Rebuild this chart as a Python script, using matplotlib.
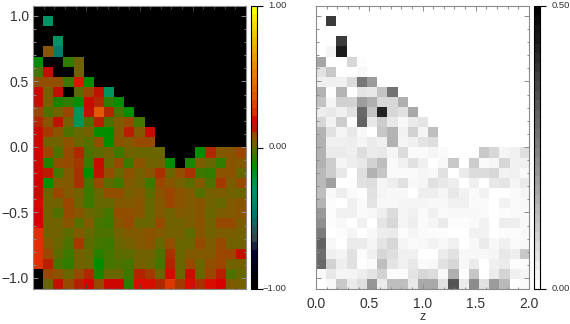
import matplotlib
matplotlib.use('Agg')
import matplotlib.pyplot as plt
import numpy as np
from matplotlib.cm import ScalarMappable
from matplotlib.colors import LinearSegmentedColormap, Normalize
from matplotlib.ticker import MultipleLocator
from matplotlib.transforms import ScaledTranslation

plt.rcParams['font.family'] = ['Liberation Sans', 'DejaVu Sans']

# left panel, top row first; short rows are black (-1) to the right
signed_rows = [
    [],
    [-1, -.30],
    [],
    [-1, -1, -.30],
    [-1, .06, -.45],
    [-.14, -1, -1, -.07, .02],
    [-.04, .15, -1, -1, .02],
    [.08, .08, .08, -.05, .22, -.14],
    [.15, .03, .16, -1, -.01, .10, .145, -.28],
    [.145, .03, -.10, -.07, -.15, .16, .125, -.07, -.14],
    [.10, -.03, .02, .10, -.28, .145, .38, .125, -.04, -.14],
    [.125, .07, .145, .03, -.28, -.03, .135, -.03, .05, .09, -.04],
    [.16, .11, .06, -.03, 0, .03, -.13, -.14, .05, .135, .05, .16],
    [.16, .02, .02, .07, .01, -.02, .08, -.14, .06, .05, .09, .09],
    [.17, .10, -.03, .09, .125, -.03, -.01, .02, -.05, .02, .01, .01, .01, -1, -1, -1, -.14, .125, .05, .06, .10],
    [.16, -.10, .08, .09, .11, -.05, .16, .01, .09, -.05, .07, .02, .02, -.14, -1, -.10, .04, 0, -.07, .06, .05],
    [.17, .14, -.04, .05, .12, -.14, .145, .08, .01, .07, .03, .06, .12, .01, .08, .12, -.05, -.07, .07, .07, 0],
    [.17, -.15, .05, .05, .12, -.04, .09, -.01, -.05, .05, .02, -.05, .10, .06, .03, -.01, .05, -.03, .11, .04, .09],
    [.15, .01, .10, .05, .02, -.05, .01, .08, .08, .03, .05, -.01, .07, .10, .07, .05, -.02, .03, .04, .02, .01],
    [.20, .02, .02, .10, .01, -.05, 0, 0, .05, .05, .06, 0, .05, .10, .07, .05, .06, .02, 0, .05, .06],
    [.19, .02, -.03, .09, .06, .01, -.01, -.04, .08, .08, .06, 0, .05, .02, .05, .04, .06, .01, .04, .05, .07],
    [.19, .02, .02, .06, -.02, .05, -.04, -.05, .06, .09, .01, .01, .09, .02, .02, .04, .07, .02, .09, .09, .04],
    [.26, .02, .02, -.01, .05, 0, -.03, -.03, .03, .05, .05, .07, .05, .03, .03, -.01, .06, .02, .04, .04, .03],
    [.26, .05, .01, -.03, .11, -.01, -.04, -.05, .01, .03, .05, .07, 0, .08, .01, .01, .09, .04, .09, .02, .02],
    [.26, .09, -.01, -.05, .03, 0, -.08, -.04, -.01, -.01, .02, .02, -.03, .12, .01, .05, .05, .05, .10, .10, .15],
    [.26, .135, -.04, -.07, .02, .01, -.14, -.04, -.03, -.04, .03, .01, -.04, .13, .01, .09, .01, .08, .10, .02, .03],
    [-1, .10, .07, .01, .09, .125, -.10, .01, .01, -.05, .13, .11, .01, .20, .01, .15, .01, .10, .135, -.03, 0],
    [-1, .01, .15, .09, .135, .19, .09, .17, .17, -.07, .21, .21, .125, .28, .11, .21, .12, .21, .19, .05, .03],
]

# right panel, top row first; short rows are white (0) to the right
scatter_rows = [
    [],
    [0, .382],
    [],
    [0, 0, .382],
    [0, .02, .445],
    [.176, 0, 0, .078, .006],
    [.059, .108, 0, 0, .014],
    [.03, .03, .03, .069, .265, .196],
    [.151, .004, .147, 0, .05, .045, .118, .275],
    [.118, .02, .092, .088, .19, .157, .078, .078, .157],
    [.035, .045, .03, .059, .294, .118, .431, .078, .059, .167],
    [.078, .025, .098, 0, .304, .045, .098, .045, .014, .04, .053],
    [.147, .059, .02, .045, .014, 0, .112, .147, .025, .088, .02, .127],
    [.151, .03, .03, .033, .02, .04, .03, .151, .02, .03, .053, .065],
    [.151, .04, .04, .03, .065, .04, .045, .02, .069, .01, .01, .02, .01, 0, 0, 0, .108, .078, .02, .03, .065],
    [.151, .098, .02, .033, .045, .088, .127, .01, .03, .059, .03, 0, .014, .108, 0, .098, .01, .02, .078, .03, .03],
    [.137, .098, .045, 0, .065, .151, .112, .01, .01, .01, .02, .014, .059, 0, .04, .069, .069, .078, .025, .03, .01],
    [.137, .186, 0, .006, .059, .065, .02, .033, .059, .014, .02, .059, .045, .033, 0, .03, 0, .045, .053, .02, .04],
    [.127, .014, .033, .01, 0, .059, .02, .014, .014, 0, .033, .033, .02, .045, .025, .01, .025, 0, 0, .01, .02],
    [.147, .006, 0, .03, .01, .053, .014, .014, .02, .02, .02, .014, .014, .03, .03, .01, .01, 0, .025, .01, .014],
    [.196, .006, .03, .03, .01, .014, .033, .069, .02, .03, .01, .03, .01, .014, .014, .014, .01, 0, .006, .01, .014],
    [.216, .006, .014, 0, .03, 0, .053, .078, .02, .033, .01, .02, .04, .006, .006, .01, .025, 0, .033, .033, .014],
    [.255, 0, .006, .02, 0, .014, .033, .04, .006, .02, .01, .006, .006, 0, 0, .025, .025, 0, .006, .006, .014],
    [.304, .014, 0, .04, .04, .02, .053, .078, .02, .01, .014, .024, .014, .03, 0, .014, .04, .014, .03, .01, .014],
    [.284, .03, .02, .059, .006, .03, .078, .065, .03, .03, 0, 0, .04, .059, .014, .014, .014, .02, .045, .033, .108],
    [.294, .088, .033, .059, 0, .01, .127, .053, .03, .045, .01, .014, .059, .078, .014, .04, 0, .03, .04, .006, .006],
    [.01, .045, .02, .02, .033, .053, .088, .006, .01, .053, .078, .069, .014, .157, 0, .112, 0, .04, .084, .03, .02],
    [0, .014, .108, .04, .065, .206, .04, .127, .127, .045, .167, .167, .059, .333, .04, .225, .059, .196, .137, 0, .01],
]

x_ticks = [0.0, 0.5, 1.0, 1.5, 2.0]
x_labels = ['0.0', '0.5', '1.0', '1.5', '2.0']
y_ticks = [-1.0, -0.5, 0.0, 0.5, 1.0]
y_labels = ['\u22121.0', '\u22120.5', '0.0', '0.5', '1.0']

signed_ticks = [-1, 0, 1]
signed_labels = ['\u22121.00', '0.00', '1.00']
scatter_ticks = [0, 0.5]
scatter_labels = ['0.00', '0.50']


def pad_rows(rows, fill):
    return np.array([r + [fill] * (21 - len(r)) for r in rows])


signed_grid = pad_rows(signed_rows, -1)
scatter_grid = pad_rows(scatter_rows, 0)

# colour scale
anchors = [
    (-1.0, (0, 0, 0)), (-.97, (0, 0, 0)), (-.77, (0, 0, 50)), (-.66, (50, 70, 80)),
    (-.48, (0, 120, 110)), (-.29, (0, 150, 100)), (-.14, (0, 143, 0)),
    (-.05, (60, 120, 0)), (0.0, (100, 105, 0)), (.05, (130, 90, 0)),
    (.10, (155, 70, 0)), (.15, (195, 15, 0)), (.19, (215, 0, 0)),
    (.26, (220, 50, 0)), (.38, (225, 90, 0)), (.55, (230, 130, 0)),
    (.75, (235, 180, 0)), (.97, (255, 240, 0)), (1.0, (255, 255, 0)),
]
signed_cmap = LinearSegmentedColormap.from_list(
    'signed', [((v + 1) / 2, tuple(c / 255 for c in rgb)) for v, rgb in anchors], N=512)
gray_cmap = LinearSegmentedColormap.from_list('whiteblack', ['white', 'black'], N=512)

W, H = 570, 324
fig = plt.figure(figsize=(W / 100, H / 100), dpi=100)


def box(x0, x1, y0, y1):
    return [x0 / W, 1 - y1 / H, (x1 - x0) / W, (y1 - y0) / H]


EDGE = '#8c8c8c'
TEXT = '#333333'
extent = [0, 2, -1.084, 1.076]

ax1 = fig.add_axes(box(33, 246, 6, 289))
ax2 = fig.add_axes(box(316, 529, 6, 289))
ax1.imshow(signed_grid, cmap=signed_cmap, vmin=-1, vmax=1, extent=extent,
           aspect='auto', interpolation='nearest')
ax2.imshow(scatter_grid, cmap=gray_cmap, vmin=0, vmax=0.5, extent=extent,
           aspect='auto', interpolation='nearest')

for ax in (ax1, ax2):
    ax.set_xlim(0, 2)
    ax.set_ylim(-1.084, 1.076)
    ax.set_xticks(x_ticks)
    ax.set_yticks(y_ticks)
    ax.xaxis.set_minor_locator(MultipleLocator(0.1))
    ax.yaxis.set_minor_locator(MultipleLocator(0.1))
    ax.tick_params(which='major', direction='in', length=3.6, width=0.7, color=EDGE,
                   top=True, right=True, labelsize=10, labelcolor=TEXT, pad=3)
    ax.tick_params(which='minor', direction='in', length=1.8, width=0.7, color=EDGE,
                   top=True, right=True)
    for s in ax.spines.values():
        s.set_color(EDGE)
        s.set_linewidth(0.8)

ax1.set_yticklabels(y_labels)
ax1.tick_params(axis='x', labelbottom=False)
ax1.tick_params(axis='x', which='both', color='#444444')
ax2.set_xticklabels(x_labels)
ax2.tick_params(axis='y', labelleft=False)
ax2.tick_params(axis='x', pad=6)
ax2.set_xlabel('z', fontsize=9, color=TEXT, labelpad=0)


def add_bar(pos, cmap, norm, ticks, labels, pad):
    cax = fig.add_axes(pos)
    cbar = fig.colorbar(ScalarMappable(norm=norm, cmap=cmap), cax=cax)
    cbar.set_ticks(ticks)
    cbar.set_ticklabels(labels)
    cbar.outline.set_edgecolor('black')
    cbar.outline.set_linewidth(0.8)
    cax.minorticks_off()
    cax.tick_params(length=4, width=0.8, color='black', labelsize=6.8,
                    labelcolor=TEXT, pad=pad)
    # labels sit a little above their ticks, the top one still inside the figure
    shift = ScaledTranslation(0, 1.2 / 72, fig.dpi_scale_trans)
    for lab in cax.get_yticklabels():
        lab.set_horizontalalignment('right')
        lab.set_transform(lab.get_transform() + shift)
    return cax


add_bar(box(251, 257, 6, 289), signed_cmap.resampled(36), Normalize(-1, 1),
        signed_ticks, signed_labels, 17.5)
add_bar(box(534, 540, 6, 289), gray_cmap.resampled(30), Normalize(0, 0.5),
        scatter_ticks, scatter_labels, 17.5)

fig.savefig('out.png', dpi=100)
